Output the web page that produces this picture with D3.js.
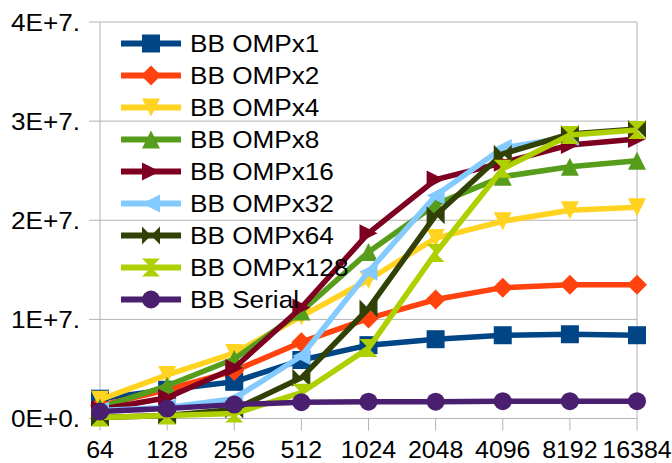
<!DOCTYPE html>
<html><head><meta charset="utf-8">
<script src="https://cdn.jsdelivr.net/npm/d3@7"></script>
<style>body{margin:0;background:#fff}svg{display:block}text{font-family:"Liberation Sans",Arial,sans-serif;fill:#000}</style>
</head><body><svg id="c" width="672" height="463"></svg>
<script>
const categories = ["64","128","256","512","1024","2048","4096","8192","16384"];
const yTickValues = [0, 1e7, 2e7, 3e7, 4e7];
const yTickLabels = ["0E+0.", "1E+7.", "2E+7.", "3E+7.", "4E+7."];
const seriesNames = ["BB OMPx1","BB OMPx2","BB OMPx4","BB OMPx8","BB OMPx16","BB OMPx32","BB OMPx64","BB OMPx128","BB Serial"];
const seriesColors = ["#004586","#ff420e","#ffd320","#579d1c","#7e0021","#83caff","#314004","#aecf00","#4b1f6f"];
const seriesMarkers = ["square","diamond","down","up","right","left","bowtie","sandglass","circle"];
const ompx1   = [2.0e6, 2.9e6, 3.7e6, 5.9e6, 7.4e6, 8.0e6, 8.4e6, 8.5e6, 8.4e6];
const ompx2   = [1.3e6, 2.9e6, 4.8e6, 7.7e6, 10.1e6, 12.0e6, 13.2e6, 13.5e6, 13.5e6];
const ompx4   = [1.9e6, 4.4e6, 6.6e6, 10.3e6, 14.0e6, 18.2e6, 19.9e6, 21.0e6, 21.3e6];
const ompx8   = [1.1e6, 3.3e6, 6.0e6, 10.8e6, 16.8e6, 21.6e6, 24.4e6, 25.4e6, 26.0e6];
const ompx16  = [0.9e6, 2.1e6, 5.1e6, 11.2e6, 18.7e6, 24.1e6, 25.8e6, 27.6e6, 28.2e6];
const ompx32  = [0.8e6, 1.1e6, 2.0e6, 6.3e6, 14.8e6, 22.5e6, 27.3e6, 28.4e6, null];
const ompx64  = [0.1e6, 0.3e6, 0.9e6, 4.1e6, 11.1e6, 20.5e6, 26.7e6, 28.7e6, 29.2e6];
const ompx128 = [0.1e6, 0.3e6, 0.5e6, 2.6e6, 7.1e6, 16.7e6, 25.2e6, 28.6e6, 29.1e6];
const serial  = [0.7e6, 1.0e6, 1.4e6, 1.65e6, 1.7e6, 1.7e6, 1.75e6, 1.75e6, 1.75e6];
const seriesValues = [ompx1, ompx2, ompx4, ompx8, ompx16, ompx32, ompx64, ompx128, serial];

const svg = d3.select("#c");
const W = 672;
const L = 100, R = 637, T = 22, B = 418.5;
const x = d3.scalePoint().domain(categories).range([L, R]);
const y = d3.scaleLinear().domain([0, 4e7]).range([B, T]);
const grid = "#b3b3b3";
const SX = 1.09, SXX = 1.04;

svg.append("g").selectAll("line").data(yTickValues).join("line")
  .attr("x1", L - 11).attr("x2", R).attr("y1", d => y(d)).attr("y2", d => y(d))
  .attr("stroke", grid).attr("stroke-width", 1);
svg.append("line").attr("x1", L).attr("x2", L).attr("y1", T).attr("y2", B).attr("stroke", grid);
svg.append("line").attr("x1", R).attr("x2", R).attr("y1", T).attr("y2", B).attr("stroke", grid);
svg.append("g").selectAll("line").data(categories).join("line")
  .attr("x1", d => x(d)).attr("x2", d => x(d)).attr("y1", B).attr("y2", B + 12)
  .attr("stroke", grid);
svg.append("g").selectAll("text").data(yTickValues).join("text")
  .attr("transform", d => `translate(80,${y(d)}) scale(${SX},1)`).attr("dy", "0.36em").attr("text-anchor", "end")
  .style("font-size", "24px").text((d, i) => yTickLabels[i]);
svg.append("g").selectAll("text").data(categories).join("text")
  .attr("text-anchor", "middle").style("font-size", "24px").text(d => d)
  .attr("transform", function(d) {
    const w = this.getComputedTextLength() * SXX;
    let cx = x(d);
    if (cx + w / 2 > W) cx = W - w / 2;
    return `translate(${cx},458) scale(${SXX},1)`;
  });

const S = 9;
function markerPath(type) {
  switch (type) {
    case "square": return `M${-S},${-S}H${S}V${S}H${-S}Z`;
    case "diamond": return `M0,${-S-1}L${S+1},0L0,${S+1}L${-S-1},0Z`;
    case "down": return `M${-S},${-S}L${S},${-S}L0,${S}Z`;
    case "up": return `M${-S},${S}L${S},${S}L0,${-S}Z`;
    case "right": return `M${-S},${-S}L${S},0L${-S},${S}Z`;
    case "left": return `M${S},${-S}L${-S},0L${S},${S}Z`;
    case "bowtie": return `M${-S},${-S}L0,0L${-S},${S}ZM${S},${-S}L0,0L${S},${S}Z`;
    case "sandglass": return `M${-S},${-S}L${S},${-S}L0,0ZM${-S},${S}L${S},${S}L0,0Z`;
  }
}
function drawMarker(g, type, color, cx, cy) {
  if (type === "circle") {
    g.append("circle").attr("cx", cx).attr("cy", cy).attr("r", S).attr("fill", color);
  } else {
    g.append("path").attr("d", markerPath(type)).attr("transform", `translate(${cx},${cy})`).attr("fill", color);
  }
}

const line = d3.line().defined(d => d.v != null).x(d => x(d.c)).y(d => y(d.v));
seriesValues.forEach((vals, i) => {
  const g = svg.append("g");
  const pts = categories.map((c, j) => ({c, v: vals[j]}));
  g.append("path").datum(pts).attr("d", line).attr("fill", "none")
    .attr("stroke", seriesColors[i]).attr("stroke-width", 5.5).attr("stroke-linejoin", "round");
  pts.filter(p => p.v != null).forEach(p => drawMarker(g, seriesMarkers[i], seriesColors[i], x(p.c), y(p.v)));
});

const lg = svg.append("g");
seriesNames.forEach((n, i) => {
  const cy = 43.5 + i * 32;
  lg.append("line").attr("x1", 121).attr("x2", 181).attr("y1", cy).attr("y2", cy)
    .attr("stroke", seriesColors[i]).attr("stroke-width", 6);
  drawMarker(lg, seriesMarkers[i], seriesColors[i], 151, cy);
  lg.append("text").attr("transform", `translate(190,${cy}) scale(${SX},1)`).attr("dy", "0.36em").style("font-size", "24px").text(n);
});
</script></body></html>
